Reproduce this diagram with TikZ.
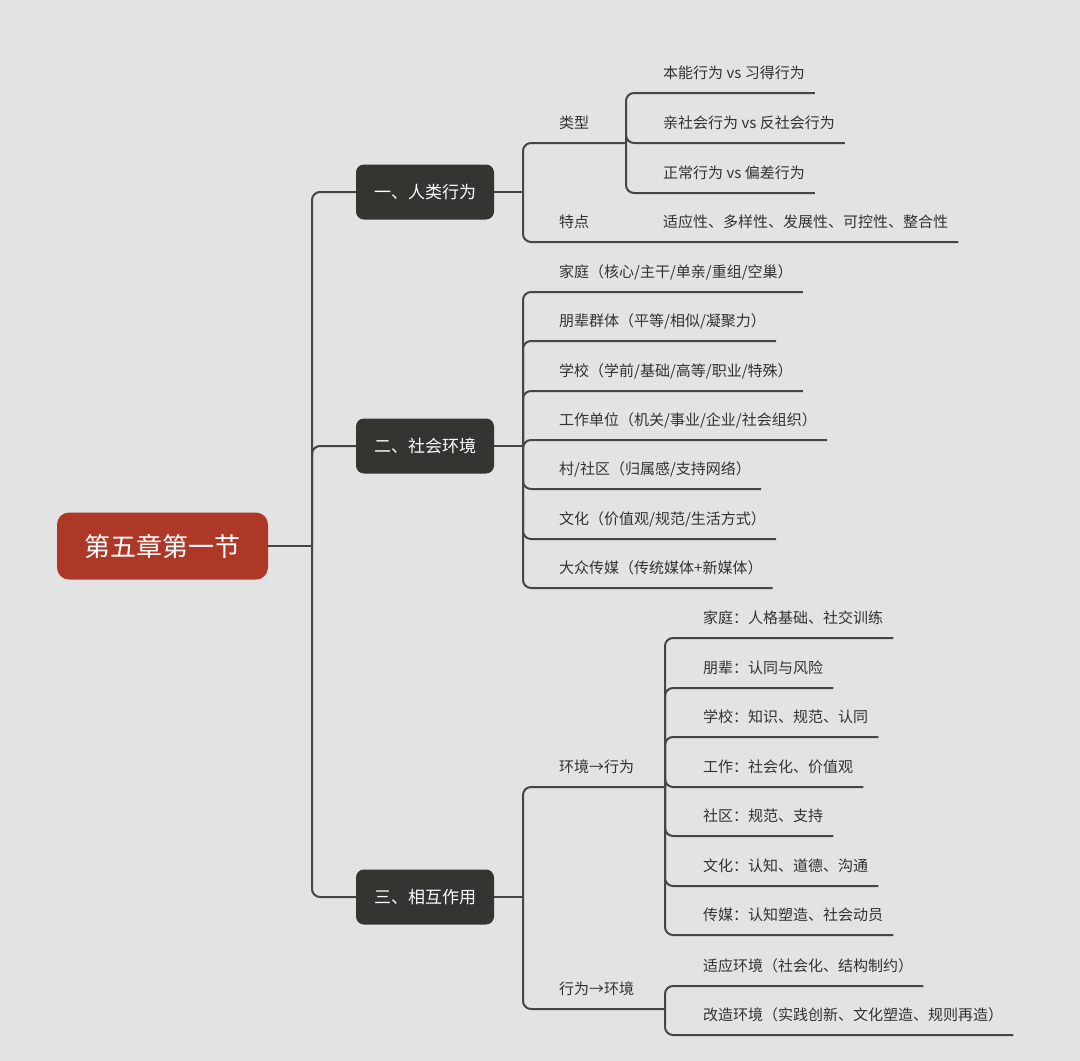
\documentclass[tikz,border=0pt]{standalone}
\usepackage{fontspec}
\setmainfont{Noto Sans CJK SC}
\usetikzlibrary{calc}
\definecolor{bggray}{RGB}{227,227,227}
\definecolor{rootred}{RGB}{174,56,40}
\definecolor{maindark}{RGB}{52,52,49}
\definecolor{textgray}{RGB}{50,50,50}
\definecolor{linegray}{RGB}{70,70,70}
\begin{document}
\begin{tikzpicture}[x=1pt,y=-1pt,
  rootbox/.style={rounded corners=12pt, fill=rootred, text=white, minimum width=211pt, minimum height=67pt, inner sep=0pt, font=\fontsize{26}{30}\selectfont},
  mainbox/.style={rounded corners=8pt, fill=maindark, text=white, minimum width=138pt, minimum height=55pt, inner sep=0pt, font=\fontsize{17}{20}\selectfont},
  leaf/.style={anchor=west, inner sep=0pt, text=textgray, font=\fontsize{15}{18}\selectfont},
  conn/.style={draw=linegray, line width=2pt, rounded corners=8pt}]
\useasboundingbox (0,0) rectangle (1080,1061);
\fill[bggray] (0,0) rectangle (1080,1061);

% main nodes
\node[rootbox] (root) at (162.5,546) {第五章第一节};
\node[mainbox] (m1) at (425,192) {一、人类行为};
\node[mainbox] (m2) at (425,446) {二、社会环境};
\node[mainbox] (m3) at (425,897) {三、相互作用};

% junctions
\coordinate (j0) at (312,546);
\coordinate (j1) at (523,192);
\coordinate (j2) at (523,446);
\coordinate (j3) at (523,897);
\coordinate (j11) at (626,143);
\coordinate (j31) at (665,787);
\coordinate (j32) at (665,1009);

% texts: branch 1
\node[leaf] (t11) at (559,123) {类型};
\node[leaf] (t12) at (559,222) {特点};
\node[leaf] (t111) at (663,73) {本能行为 vs 习得行为};
\node[leaf] (t112) at (663,123) {亲社会行为 vs 反社会行为};
\node[leaf] (t113) at (663,173) {正常行为 vs 偏差行为};
\node[leaf] (t121) at (663,222) {适应性、多样性、发展性、可控性、整合性};

% texts: branch 2
\node[leaf] (t21) at (559,272) {家庭（核心/主干/单亲/重组/空巢）};
\node[leaf] (t22) at (559,321) {朋辈群体（平等/相似/凝聚力）};
\node[leaf] (t23) at (559,371) {学校（学前/基础/高等/职业/特殊）};
\node[leaf] (t24) at (559,420) {工作单位（机关/事业/企业/社会组织）};
\node[leaf] (t25) at (559,469) {村/社区（归属感/支持网络）};
\node[leaf] (t26) at (559,519) {文化（价值观/规范/生活方式）};
\node[leaf] (t27) at (559,568) {大众传媒（传统媒体+新媒体）};

% texts: branch 3
\node[leaf] (t31) at (559,767) {环境→行为};
\node[leaf] (t32) at (559,989) {行为→环境};
\node[leaf] (t311) at (703,618) {家庭：人格基础、社交训练};
\node[leaf] (t312) at (703,668) {朋辈：认同与风险};
\node[leaf] (t313) at (703,717) {学校：知识、规范、认同};
\node[leaf] (t314) at (703,767) {工作：社会化、价值观};
\node[leaf] (t315) at (703,816) {社区：规范、支持};
\node[leaf] (t316) at (703,866) {文化：认知、道德、沟通};
\node[leaf] (t317) at (703,915) {传媒：认知塑造、社会动员};
\node[leaf] (t321) at (703,966) {适应环境（社会化、结构制约）};
\node[leaf] (t322) at (703,1015) {改造环境（实践创新、文化塑造、规则再造）};

% trunk
\draw[conn] (root.east) -- (j0);
\draw[conn] (j0) |- (m1.west);
\draw[conn] (j0) |- (m2.west);
\draw[conn] (j0) |- (m3.west);

% branch 1
\draw[conn] (m1.east) -- (j1);
\draw[conn] (j1) |- (j11);
\draw[conn] (j1) |- ($(t121.east)+(10,20)$);
\draw[conn] (j11) |- ($(t111.east)+(10,20)$);
\draw[conn] (j11) |- ($(t112.east)+(10,20)$);
\draw[conn] (j11) |- ($(t113.east)+(10,20)$);

% branch 2
\draw[conn] (m2.east) -- (j2);
\foreach \t in {t21,t22,t23,t24,t25,t26,t27}
  \draw[conn] (j2) |- ($(\t.east)+(10,20)$);

% branch 3
\draw[conn] (m3.east) -- (j3);
\draw[conn] (j3) |- (j31);
\draw[conn] (j3) |- (j32);
\foreach \t in {t311,t312,t313,t314,t315,t316,t317}
  \draw[conn] (j31) |- ($(\t.east)+(10,20)$);
\draw[conn] (j32) |- ($(t321.east)+(10,20)$);
\draw[conn] (j32) |- ($(t322.east)+(10,20)$);
\end{tikzpicture}
\end{document}
